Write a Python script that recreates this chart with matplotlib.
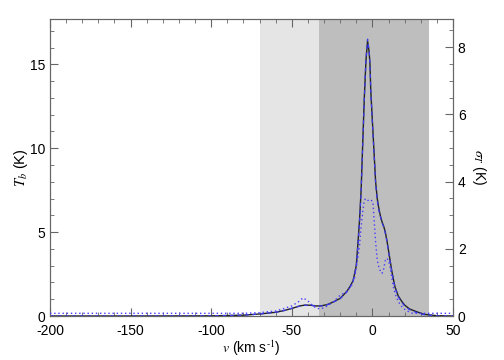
import matplotlib
matplotlib.use("Agg")
import matplotlib.pyplot as plt
from matplotlib.ticker import MultipleLocator

plt.rcParams['font.family'] = ['Liberation Sans', 'DejaVu Sans']
plt.rcParams['mathtext.fontset'] = 'stix'
plt.rcParams['axes.unicode_minus'] = False

# Observed brightness temperature (solid black)
v_obs = [-200, -150, -100, -80, -70, -60, -55, -50, -45, -42, -38, -35, -32, -28, -24,
         -20, -18, -16, -14, -12, -10, -9, -8, -7, -6, -5, -4, -3, -2, -1.5, -1,
         0, 1, 2, 3, 4, 5, 6, 7, 8, 9, 10, 11, 12, 13, 14, 16, 18, 20, 23, 27, 32, 40, 50]
tb_obs = [0, 0, 0.01, 0.05, 0.12, 0.22, 0.32, 0.45, 0.6, 0.65, 0.64, 0.6, 0.6, 0.68, 0.85,
          1.05, 1.25, 1.45, 1.74, 2.1, 3.0, 4.3, 5.7, 7.5, 10.3, 13.05, 15.2, 16.4, 15.7, 15.0, 13.4,
          11.6, 9.8, 8.0, 7.0, 6.4, 5.95, 5.6, 5.35, 5.0, 4.5, 3.9, 3.3, 2.7, 2.2, 1.74, 1.2, 0.9, 0.65, 0.42, 0.27, 0.1, 0.02, 0]

# Model fit (blue dashed)
v_mod = v_obs
tb_mod = [0, 0, 0.01, 0.05, 0.12, 0.22, 0.32, 0.46, 0.6, 0.64, 0.63, 0.6, 0.6, 0.67, 0.84,
          1.03, 1.22, 1.42, 1.7, 2.05, 2.95, 4.2, 5.6, 7.4, 10.2, 13.0, 15.3, 16.5, 15.8, 15.0, 13.4,
          11.5, 9.7, 7.9, 6.9, 6.3, 5.9, 5.55, 5.3, 4.95, 4.45, 3.85, 3.25, 2.65, 2.15, 1.7, 1.15, 0.85, 0.6, 0.38, 0.22, 0.08, 0.01, 0]

# Standard deviation sigma_T (blue dotted, right axis)
v_sig = [-200, -180, -160, -140, -120, -100, -80, -70, -60, -55, -50, -46, -43, -40, -37, -34,
         -31, -28, -24, -20, -16, -13, -11, -9, -8, -7, -6, -5, -4, -3, -2, -1, 0, 0.5, 1,
         2, 3, 4, 5, 6, 7, 8, 9, 10, 11, 12, 13, 14, 16, 19, 22, 25, 30, 40, 50]
sig = [0.08, 0.08, 0.08, 0.08, 0.08, 0.08, 0.08, 0.1, 0.15, 0.22, 0.3, 0.42, 0.54, 0.45, 0.3, 0.22,
       0.23, 0.3, 0.43, 0.62, 0.72, 0.9, 1.15, 1.75, 2.1, 2.65, 3.1, 3.45, 3.5, 3.45, 3.42, 3.45, 3.42, 3.3, 2.9,
       2.2, 1.67, 1.45, 1.33, 1.27, 1.4, 1.65, 1.72, 1.65, 1.45, 1.15, 0.87, 0.68, 0.43, 0.23, 0.14, 0.08, 0.08, 0.08, 0.08]

light_band = (-70, -33)
dark_band = (-33, 35)

fig = plt.figure(figsize=(5.04, 3.6), dpi=100)
ax = fig.add_axes([50/504, 1-316/360, 403/504, 297/360])
ax2 = ax.twinx()

ax.axvspan(*light_band, color='#e5e5e5', lw=0, zorder=0)
ax.axvspan(*dark_band, color='#bebebe', lw=0, zorder=0)

ax.plot(v_obs, tb_obs, color='#222222', lw=1.0, zorder=3)
ax.plot(v_mod, tb_mod, color='#3a3aee', lw=0.9, ls=(0, (3, 3)), zorder=4)
ax2.plot(v_sig, sig, color='#4a3cff', lw=1.0, ls=(0, (1, 2)), zorder=5)

ax.set_xlim(-200, 50)
ax.set_ylim(0, 17.7)
ax2.set_ylim(0, 8.84)

ax.xaxis.set_major_locator(MultipleLocator(50))
ax.xaxis.set_minor_locator(MultipleLocator(10))
ax.yaxis.set_major_locator(MultipleLocator(5))
ax.yaxis.set_minor_locator(MultipleLocator(1))
ax2.yaxis.set_major_locator(MultipleLocator(2))
ax2.yaxis.set_minor_locator(MultipleLocator(0.5))

gc = '0.4'
for a in (ax, ax2):
    for s in a.spines.values():
        s.set_color(gc)
        s.set_linewidth(0.8)
ax.tick_params(axis='both', which='both', direction='in', color=gc, labelsize=10, top=True)
ax.tick_params(axis='y', which='both', right=False)
ax.tick_params(which='major', length=6)
ax.tick_params(which='minor', length=3)
ax2.tick_params(axis='y', which='both', direction='in', color=gc, labelsize=10)
ax2.tick_params(which='major', length=6)
ax2.tick_params(which='minor', length=3)
ax.tick_params(axis='x', pad=6)

ax.set_xlabel(r'$v$ (km s$^{\text{-}1}$)', fontsize=10, labelpad=0)
ax.set_ylabel(r'$T_b$ (K)', fontsize=10.5, labelpad=0)
ax2.set_ylabel(r'$\sigma_T$ (K)', fontsize=10, rotation=270, labelpad=16)

ax.set_zorder(1)
ax.patch.set_visible(False)
ax2.set_zorder(2)

fig.savefig('out.png', dpi=100)
